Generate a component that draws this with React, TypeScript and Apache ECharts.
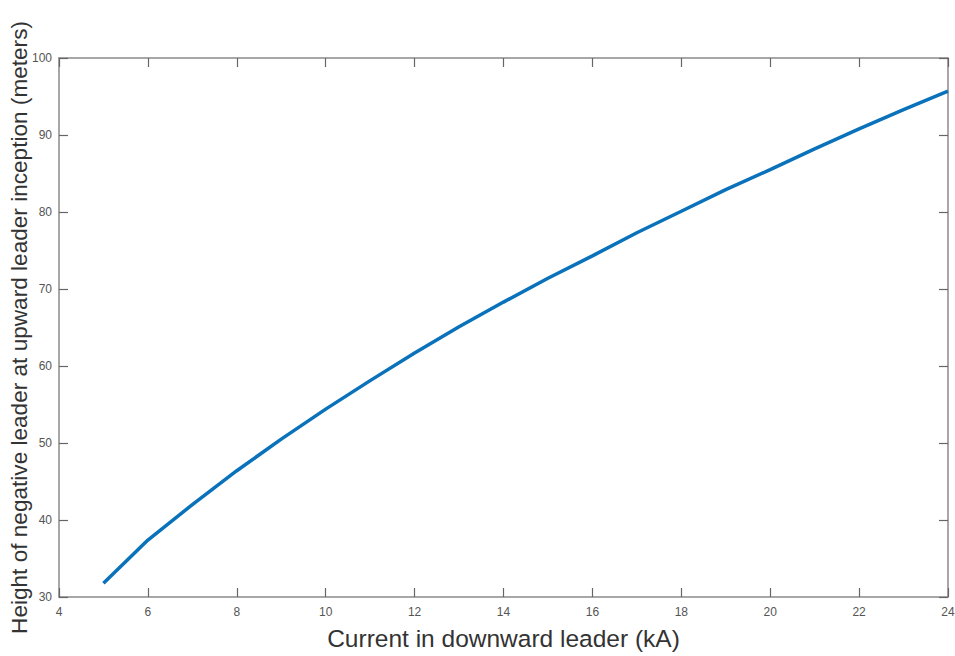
import React, { useEffect, useRef } from "react";
import * as echarts from "echarts";

const currentKA = [5, 6, 7, 8, 9, 10, 11, 12, 13, 14, 15, 16, 17, 18, 19, 20, 21, 22, 23, 24];
const heightM = [31.8, 37.4, 42.0, 46.4, 50.5, 54.4, 58.1, 61.7, 65.1, 68.3, 71.4, 74.3, 77.3, 80.1, 82.9, 85.5, 88.2, 90.8, 93.3, 95.7];

const xTitle = "Current in downward leader (kA)";
const yTitle = "Height of negative leader at upward leader inception (meters)";

export default function App() {
  const ref = useRef<HTMLDivElement>(null);
  useEffect(() => {
    if (!ref.current) return;
    const chart = echarts.init(ref.current, undefined, { renderer: "svg" });
    const axisLine = { show: true, lineStyle: { color: "#8a8a8a", width: 1.5 } };
    const tick = { show: true, inside: true, length: 9, lineStyle: { color: "#666", width: 1.2 } };
    const font = "Liberation Sans, Arial, sans-serif";
    chart.setOption({
      animation: false,
      backgroundColor: "#ffffff",
      grid: { left: 59, top: 58, right: 7, bottom: 59, containLabel: false, outerBoundsMode: "none" },
      xAxis: [
        {
          type: "value", min: 4, max: 24, interval: 2, position: "bottom",
          axisLine, axisTick: tick, splitLine: { show: false },
          axisLabel: { color: "#555", fontSize: 12, fontFamily: font, margin: 9 },
          name: xTitle, nameLocation: "middle", nameGap: 29,
          nameTextStyle: { color: "#333", fontSize: 24.5, fontFamily: font },
        },
        {
          type: "value", min: 4, max: 24, interval: 2, position: "top",
          axisLine, axisTick: tick, splitLine: { show: false }, axisLabel: { show: false },
        },
      ],
      yAxis: [
        {
          type: "value", min: 30, max: 100, interval: 10, position: "left",
          axisLine, axisTick: tick, splitLine: { show: false },
          axisLabel: { color: "#555", fontSize: 12, fontFamily: font, margin: 7 },
          name: yTitle, nameLocation: "middle", nameGap: 28, nameRotate: 90,
          nameMoveOverlap: false,
          nameTextStyle: { color: "#333", fontSize: 22.6, fontFamily: font },
        },
        {
          type: "value", min: 30, max: 100, interval: 10, position: "right",
          axisLine, axisTick: tick, splitLine: { show: false }, axisLabel: { show: false },
        },
      ],
      series: [
        {
          type: "line",
          data: currentKA.map((x, i) => [x, heightM[i]]),
          showSymbol: false,
          symbol: "none",
          lineStyle: { color: "#0a72bb", width: 3.5 },
          xAxisIndex: 0,
          yAxisIndex: 0,
        },
      ],
    });
    return () => chart.dispose();
  }, []);
  return (
    <div
      ref={ref}
      style={{ position: "fixed", left: 0, top: 0, width: 955, height: 656, background: "#fff" }}
    />
  );
}
